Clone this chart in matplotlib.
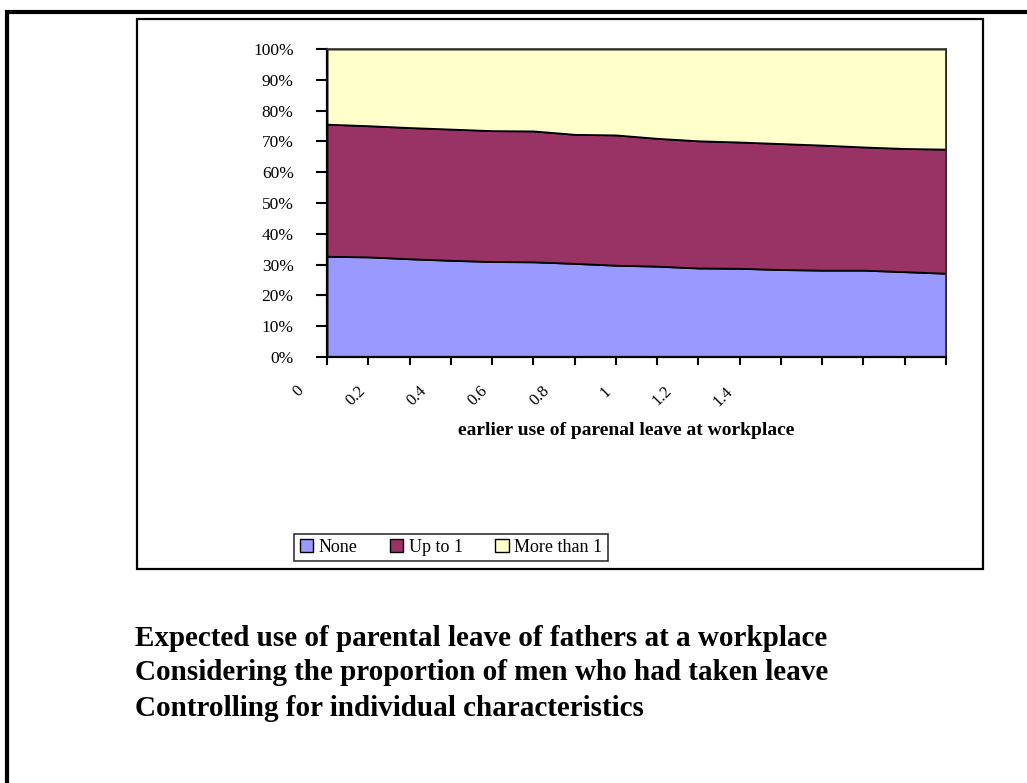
import matplotlib.pyplot as plt
import matplotlib.patches as patches
import matplotlib.transforms as mtransforms
from matplotlib.patches import Patch
import numpy as np

plt.rcParams['font.family'] = ['Liberation Serif', 'DejaVu Serif']

# share of fathers at the workplace expected to take leave, in percent,
# by earlier use of parental leave (categories 0.0 .. 1.5)
categories = ["0", "0.1", "0.2", "0.3", "0.4", "0.5", "0.6", "0.7",
              "0.8", "0.9", "1", "1.1", "1.2", "1.3", "1.4", "1.5"]
none = [32.7, 32.5, 31.9, 31.4, 31.0, 30.9, 30.4, 29.8,
        29.5, 28.9, 28.8, 28.4, 28.2, 28.2, 27.7, 27.2]
up_to_1 = [42.9, 42.6, 42.6, 42.6, 42.5, 42.5, 41.9, 42.3,
           41.5, 41.3, 41.0, 40.9, 40.6, 40.0, 40.0, 40.3]
more_than_1 = [24.4, 24.9, 25.5, 26.0, 26.5, 26.6, 27.7, 27.9,
               29.0, 29.8, 30.2, 30.7, 31.2, 31.8, 32.3, 32.5]

series_names = ["None", "Up to 1", "More than 1"]
series_colors = ["#9999FF", "#993366", "#FFFFCC"]
x_labels = ["0", "0.2", "0.4", "0.6", "0.8", "1", "1.2", "1.4"]
y_ticks = list(range(0, 101, 10))

title_lines = [
    "Expected use of parental leave of fathers at a workplace",
    "Considering the proportion of men who had taken leave",
    "Controlling for individual characteristics",
]

W, H = 1027, 783
fig = plt.figure(figsize=(W / 100, H / 100), dpi=100)

# outer frame and chart frame
fig.patches.append(patches.Rectangle((7 / W, -0.05), 1.1, 1 - 12 / H + 0.05,
                                     transform=fig.transFigure, fill=False,
                                     edgecolor="black", linewidth=3))
fig.patches.append(patches.Rectangle((137 / W, 1 - 569 / H), (983 - 137) / W,
                                     (569 - 19) / H, transform=fig.transFigure,
                                     fill=False, edgecolor="black", linewidth=1.6))

ax = fig.add_axes([327 / W, 1 - 357 / H, (946 - 327) / W, (357 - 49) / H])

x = np.arange(len(categories))
ax.stackplot(x, none, up_to_1, more_than_1, colors=series_colors,
             edgecolor="black", linewidth=1.3)

ax.set_yticks(y_ticks)
ax.set_yticklabels([f"{v}%" for v in y_ticks], fontsize=12.5)
ax.tick_params(axis="y", direction="out", length=8, width=1.5, pad=16)

ax.set_xticks(x)
ax.set_xticklabels([])
ax.tick_params(axis="x", direction="out", length=6, width=1.5)

ax.set_xlim(0, len(categories) - 1)
ax.set_ylim(0, 100)

# rotated category labels, spread the way the old chart export placed them
trans = mtransforms.blended_transform_factory(ax.transData, ax.transAxes)
label_pos = np.linspace(-0.75, 9.65, len(x_labels))
for pos, lab in zip(label_pos, x_labels):
    ax.text(pos, -0.085, lab, transform=trans, rotation=45, ha="right",
            va="top", rotation_mode="anchor", fontsize=12, clip_on=False)

for side in ["left", "bottom"]:
    ax.spines[side].set_linewidth(1.6)
for side in ["top", "right"]:
    ax.spines[side].set_linewidth(1.2)
    ax.spines[side].set_color("#333333")

ax.set_xlabel("earlier use of parenal leave at workplace",
              fontsize=14, fontweight="bold")
ax.xaxis.set_label_coords(0.483, -0.21)

handles = [Patch(facecolor=c, edgecolor="black", linewidth=1)
           for c in series_colors]
fig.legend(handles, series_names, loc="center",
           bbox_to_anchor=(451 / W, 1 - 547.5 / H), ncol=3, fontsize=13,
           frameon=True, fancybox=False, edgecolor="black",
           handlelength=0.75, handleheight=0.75, handletextpad=0.3,
           columnspacing=1.8, borderpad=0.3)
fig.legends[0].get_frame().set_linewidth(1.2)

for i, line in enumerate(title_lines):
    fig.text(135 / W, 1 - (638 + 35 * i) / H, line, fontsize=21,
             fontweight="bold", ha="left", va="center")

fig.savefig("out.png", dpi=100)
